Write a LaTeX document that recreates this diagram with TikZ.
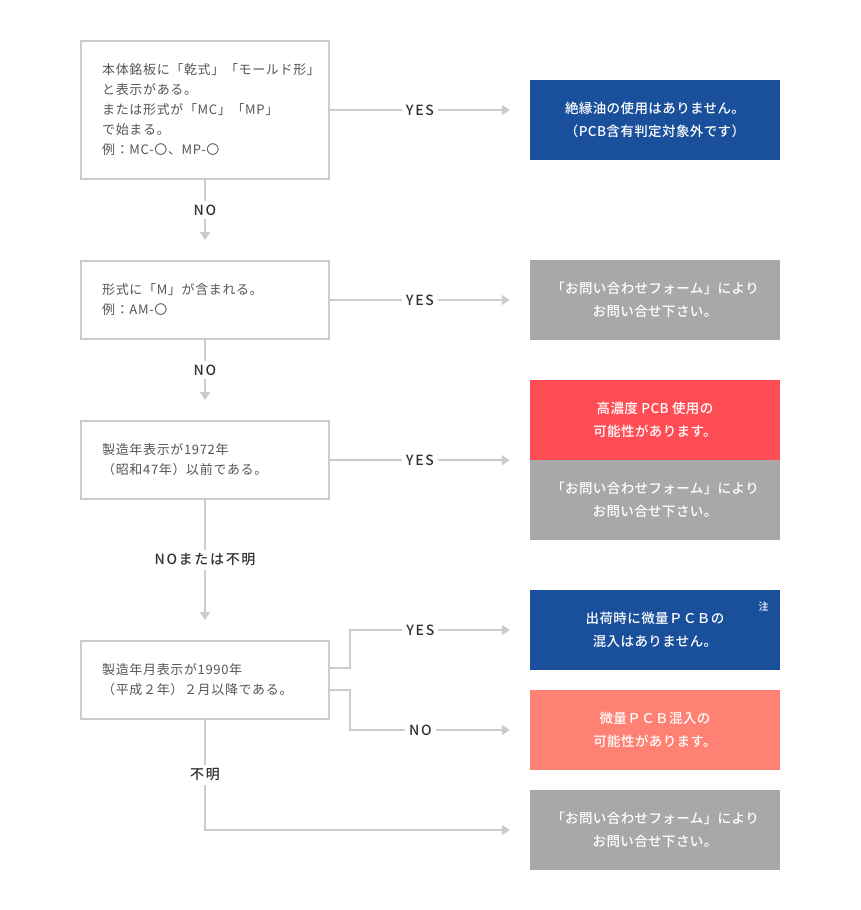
\documentclass[tikz,border=0pt]{standalone}
\usepackage{fontspec}
\setmainfont{Noto Sans CJK JP}[BoldFont={Noto Sans CJK JP Medium}]
\usetikzlibrary{arrows.meta}
\definecolor{lineGray}{HTML}{CCCCCC}
\definecolor{textGray}{HTML}{555555}
\definecolor{labelDark}{HTML}{333333}
\definecolor{resBlue}{HTML}{1A509B}
\definecolor{resRed}{HTML}{FF4D55}
\definecolor{resSalmon}{HTML}{FF8173}
\definecolor{resGray}{HTML}{A8A8A8}
\begin{document}
\begin{tikzpicture}[x=1pt,y=-1pt,
	question/.style={draw=lineGray, line width=2pt, minimum width=248pt, inner sep=0pt},
	qtext/.style={anchor=west, align=left, text=textGray, inner sep=0pt, font=\fontsize{13}{20}\selectfont\addfontfeature{LetterSpace=5}},
	result/.style={minimum width=250pt, minimum height=80pt, inner sep=0pt, text=white, align=center, font=\fontsize{13.5}{22.5}\selectfont\bfseries\addfontfeature{LetterSpace=3}},
	link/.style={draw=lineGray, line width=2pt, -{Triangle[length=8pt,width=10pt]}},
	answer/.style={fill=white, text=labelDark, inner xsep=4pt, font=\fontsize{14}{14}\selectfont\bfseries\addfontfeature{LetterSpace=12}}]
	\useasboundingbox (0,0) rectangle (860,910);
	% questions
	\node[question, minimum height=138pt] (Q_1) at (205,110) {};
	\node[qtext] (T_1) at ([xshift=22pt]Q_1.west) {本体銘板に「乾式」「モールド形」\\と表示がある。\\または形式が「MC」「MP」\\で始まる。\\例：MC-〇、MP-〇};
	\node[question, minimum height=78pt] (Q_2) at (205,300) {};
	\node[qtext] (T_2) at ([xshift=22pt]Q_2.west) {形式に「M」が含まれる。\\例：AM-〇};
	\node[question, minimum height=78pt] (Q_3) at (205,460) {};
	\node[qtext] (T_3) at ([xshift=22pt]Q_3.west) {製造年表示が1972年\\（昭和47年）以前である。};
	\node[question, minimum height=78pt] (Q_4) at (205,680) {};
	\node[qtext] (T_4) at ([xshift=22pt]Q_4.west) {製造年月表示が1990年\\（平成２年）２月以降である。};
	% results
	\node[result, fill=resBlue] (R_1) at (655,120) {絶縁油の使用はありません。\\（PCB含有判定対象外です）};
	\node[result, fill=resGray] (R_2) at (655,300) {「お問い合わせフォーム」により\\お問い合せ下さい。};
	\node[result, fill=resRed] (R_3a) at (655,420) {高濃度 PCB 使用の\\可能性があります。};
	\node[result, fill=resGray] (R_3b) at (655,500) {「お問い合わせフォーム」により\\お問い合せ下さい。};
	\node[result, fill=resBlue] (R_4a) at (655,630) {出荷時に微量ＰＣＢの\\混入はありません。};
	\node[text=white, font=\fontsize{10}{10}\selectfont\bfseries, anchor=north east] (N_4a) at ([xshift=-8pt,yshift=-9pt]R_4a.north east) {注};
	\node[result, fill=resSalmon] (R_4b) at (655,730) {微量ＰＣＢ混入の\\可能性があります。};
	\node[result, fill=resGray] (R_5) at (655,830) {「お問い合わせフォーム」により\\お問い合せ下さい。};
	% connectors
	\draw[link] (Q_1.east) -- ([xshift=-20pt]R_1.west |- Q_1.east) node[midway, answer] {YES};
	\draw[link] (Q_1.south) -- ([yshift=20pt]Q_2.north) node[midway, answer] {NO};
	\draw[link] (Q_2.east) -- ([xshift=-20pt]R_2.west) node[midway, answer] {YES};
	\draw[link] (Q_2.south) -- ([yshift=20pt]Q_3.north) node[midway, answer] {NO};
	\draw[link] (Q_3.east) -- ([xshift=-20pt]R_3a.south west) node[midway, answer] {YES};
	\draw[link] (Q_3.south) -- ([yshift=20pt]Q_4.north) node[midway, answer] {NOまたは不明};
	\draw[link] ([yshift=12pt]Q_4.east) -- ++(20,0) |- ([xshift=-20pt]R_4a.west) node[pos=0.72, answer] {YES};
	\draw[link] ([yshift=-10pt]Q_4.east) -- ++(20,0) |- ([xshift=-20pt]R_4b.west) node[pos=0.72, answer] {NO};
	\draw[link] (Q_4.south) |- ([xshift=-20pt]R_5.west) node[pos=0.25, answer] {不明};
\end{tikzpicture}
\end{document}
